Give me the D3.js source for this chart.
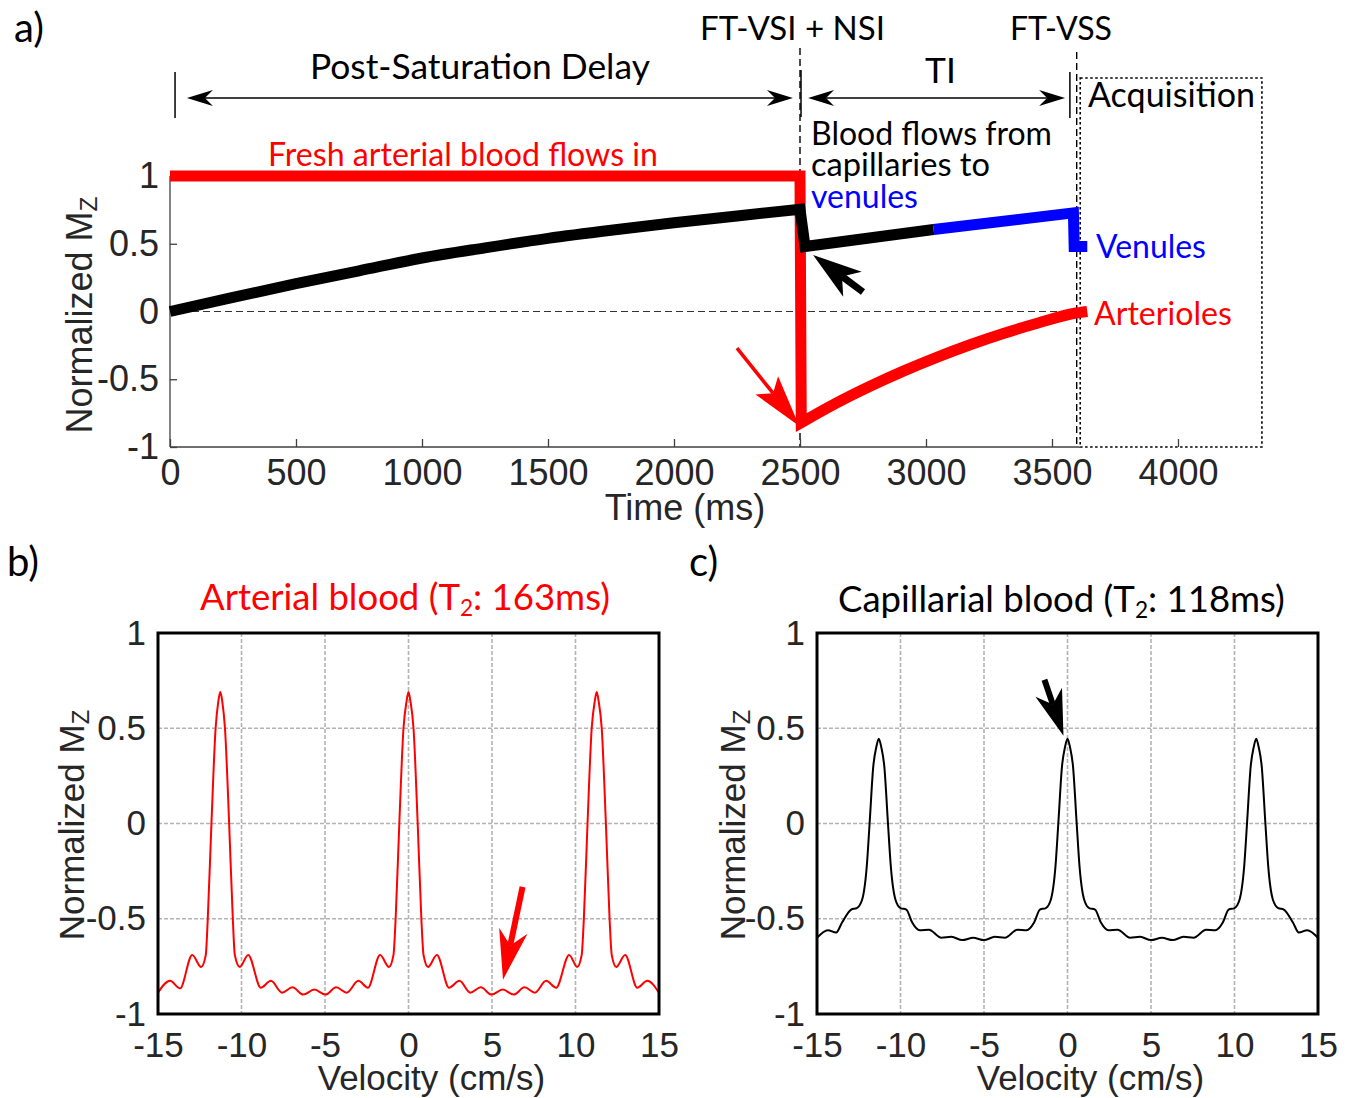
<!DOCTYPE html>
<html>
<head>
<meta charset="utf-8">
<script src="https://cdn.jsdelivr.net/npm/d3@7"></script>
<style>
  body { margin: 0; background: #fff; }
  svg { display: block; }
</style>
</head>
<body>
<svg id="fig" width="1361" height="1098"></svg>
<script>
// ---------------- data ----------------
// axis ticks
const timeTicks = [0, 500, 1000, 1500, 2000, 2500, 3000, 3500, 4000];
const mzTicks = [-1, -0.5, 0, 0.5, 1];
const velTicks = [-15, -10, -5, 0, 5, 10, 15];
const velGrid = [-10, -5, 0, 5, 10];
const mzGrid = [-0.5, 0, 0.5];

// (a) arterial blood: inflow at Mz = 1, inverted at 2500 ms, then T1 recovery
const arterialT = [0, 2500, 2505, 2640, 2780, 2910, 3040, 3175, 3310, 3445, 3585, 3640];
const arterialM = [1, 1, -0.82, -0.68, -0.55, -0.44, -0.34, -0.245, -0.16, -0.085, -0.015, 0.0];

// (a) capillary blood: recovery after saturation, drop at 2500 ms
const capillaryT = [0, 250, 500, 750, 1000, 1250, 1500, 1750, 2000, 2250, 2500, 2520, 3030];
const capillaryM = [0, 0.105, 0.205, 0.30, 0.395, 0.47, 0.54, 0.60, 0.655, 0.705, 0.755, 0.48, 0.605];

// (a) venous part of the same blood, crushed at FT-VSS
const venousT = [3030, 3585, 3588, 3640];
const venousM = [0.605, 0.728, 0.48, 0.48];

// (b) velocity profile, arterial blood (T2 163 ms)
const arterialVel = [-15, -14.28, -13.68, -12.95, -12.42, -12.14, -12.02, -11.8, -11.55, -11.39, -11.27, -11.15, -10.99, -10.74, -10.52, -10.4, -10.1, -9.6, -8.84, -8.24, -7.57, -6.95, -6.3, -5.64, -4.97, -4.33, -3.7, -3.0, -2.43, -1.7, -1.17, -0.9, -0.77, -0.55, -0.3, -0.12, 0, 0.12, 0.3, 0.55, 0.77, 0.9, 1.17, 1.7, 2.43, 3.05, 3.7, 4.33, 4.97, 5.64, 6.3, 6.95, 7.57, 8.24, 8.84, 9.62, 10.1, 10.37, 10.5, 10.72, 10.97, 11.15, 11.27, 11.39, 11.57, 11.82, 12.04, 12.17, 12.44, 12.97, 13.7, 14.3, 15];
const arterialProfile = [-0.888, -0.826, -0.865, -0.69, -0.753, -0.69, -0.5, 0, 0.5, 0.64, 0.69, 0.64, 0.5, 0, -0.5, -0.69, -0.753, -0.69, -0.862, -0.826, -0.888, -0.86, -0.898, -0.872, -0.898, -0.86, -0.888, -0.826, -0.862, -0.69, -0.753, -0.69, -0.5, 0, 0.5, 0.64, 0.69, 0.64, 0.5, 0, -0.5, -0.69, -0.753, -0.69, -0.862, -0.826, -0.888, -0.86, -0.898, -0.872, -0.898, -0.86, -0.888, -0.826, -0.862, -0.69, -0.753, -0.69, -0.5, 0, 0.5, 0.64, 0.69, 0.64, 0.5, 0, -0.5, -0.69, -0.753, -0.69, -0.862, -0.826, -0.888];

// (c) velocity profile, capillary blood (T2 118 ms)
const capillaryVel = [-15, -14.35, -13.85, -13.5, -12.95, -12.62, -12.3, -12.02, -11.85, -11.63, -11.45, -11.3, -11.15, -10.97, -10.75, -10.58, -10.3, -10.0, -9.65, -9.3, -8.85, -8.3, -7.55, -6.95, -6.3, -5.65, -5.0, -4.35, -3.75, -3.0, -2.45, -2.0, -1.65, -1.3, -1.0, -0.72, -0.55, -0.33, -0.15, 0, 0.15, 0.33, 0.55, 0.72, 1.0, 1.3, 1.65, 2.0, 2.45, 3.0, 3.75, 4.35, 5.0, 5.65, 6.3, 6.95, 7.55, 8.3, 8.85, 9.3, 9.65, 10.0, 10.3, 10.58, 10.75, 10.97, 11.15, 11.3, 11.45, 11.63, 11.85, 12.02, 12.3, 12.62, 12.95, 13.5, 13.85, 14.35, 15];
const capillaryProfile = [-0.60, -0.56, -0.572, -0.52, -0.452, -0.444, -0.40, -0.225, 0, 0.30, 0.40, 0.445, 0.40, 0.30, 0, -0.225, -0.40, -0.444, -0.452, -0.52, -0.561, -0.558, -0.60, -0.595, -0.612, -0.60, -0.612, -0.595, -0.60, -0.558, -0.561, -0.52, -0.452, -0.444, -0.40, -0.225, 0, 0.30, 0.40, 0.445, 0.40, 0.30, 0, -0.225, -0.40, -0.444, -0.452, -0.52, -0.561, -0.558, -0.60, -0.595, -0.612, -0.60, -0.612, -0.595, -0.60, -0.558, -0.561, -0.52, -0.452, -0.444, -0.40, -0.225, 0, 0.30, 0.40, 0.445, 0.40, 0.30, 0, -0.225, -0.40, -0.444, -0.452, -0.52, -0.572, -0.56, -0.60];

// ---------------- setup ----------------
const RED = '#ff0000', BLUE = '#0000ff', INK = '#262626';
const ANN_FONT = "Lato, 'Open Sans', 'DejaVu Sans', sans-serif";
const AX_FONT = "'Liberation Sans', Arial, Helvetica, sans-serif";
const svg = d3.select('#fig');

const zip = (xs, ys) => xs.map((x, i) => [x, ys[i]]);

function fit(sel, target) {
  const w = sel.node().getComputedTextLength();
  sel.attr('font-size', (+sel.attr('font-size')) * target / w);
  return sel;
}

function annot(x, y, str, width, color = '#000', size = 34) {
  const t = svg.append('text')
    .attr('x', x).attr('y', y)
    .attr('font-family', ANN_FONT)
    .attr('font-size', size)
    .attr('fill', color)
    .text(str);
  if (width) fit(t, width);
  return t;
}

// filled, notched arrowhead with a straight shaft (tail -> tip)
function arrow(g, tail, tip, o) {
  const dx = tip[0] - tail[0], dy = tip[1] - tail[1];
  const L = Math.hypot(dx, dy), ux = dx / L, uy = dy / L, px = -uy, py = ux;
  const bx = tip[0] - ux * o.head, by = tip[1] - uy * o.head;
  const nx = tip[0] - ux * (o.head - o.notch), ny = tip[1] - uy * (o.head - o.notch);
  if (o.shaft) {
    g.append('line')
      .attr('x1', tail[0]).attr('y1', tail[1]).attr('x2', nx).attr('y2', ny)
      .attr('stroke', o.color).attr('stroke-width', o.shaft);
  }
  g.append('path')
    .attr('d', `M${tip[0]},${tip[1]}L${bx + px * o.half},${by + py * o.half}L${nx},${ny}L${bx - px * o.half},${by - py * o.half}Z`)
    .attr('fill', o.color);
}

function doubleArrow(g, a, b, o) {
  const dx = b[0] - a[0], dy = b[1] - a[1];
  const L = Math.hypot(dx, dy), ux = dx / L, uy = dy / L;
  const back = o.head - o.notch;
  g.append('line')
    .attr('x1', a[0] + ux * back).attr('y1', a[1] + uy * back)
    .attr('x2', b[0] - ux * back).attr('y2', b[1] - uy * back)
    .attr('stroke', o.color).attr('stroke-width', o.shaft);
  arrow(g, b, a, Object.assign({}, o, { shaft: 0 }));
  arrow(g, a, b, Object.assign({}, o, { shaft: 0 }));
}

// join several d3.line outputs into one continuous path
function joinPaths(parts) {
  return parts.map((d, i) => (i ? d.replace(/^M/, 'L') : d)).join('');
}

function styleTicks(g, size) {
  g.attr('font-family', AX_FONT).attr('font-size', size);
  g.selectAll('.tick text').attr('font-family', AX_FONT).attr('font-size', size).attr('fill', INK);
}

// ================= panel a =================
const xA = d3.scaleLinear().domain([0, 4000]).range([170, 1178]);
const yA = d3.scaleLinear().domain([-1, 1]).range([447, 176]);
const gA = svg.append('g');

// zero reference line
gA.append('line')
  .attr('x1', xA(0)).attr('x2', xA(3585))
  .attr('y1', yA(0)).attr('y2', yA(0))
  .attr('stroke', '#333').attr('stroke-width', 1).attr('stroke-dasharray', '7,4');

// event markers (dashed verticals)
[[2500, 48], [3598, 52]].forEach(([t, top]) => {
  gA.append('line')
    .attr('x1', xA(t)).attr('x2', xA(t))
    .attr('y1', top).attr('y2', yA(-1))
    .attr('stroke', '#000').attr('stroke-width', 1.4).attr('stroke-dasharray', '7,4');
});

// axes
const axXa = gA.append('g')
  .attr('transform', `translate(0,${yA(-1)})`)
  .call(d3.axisBottom(xA).tickValues(timeTicks).tickSizeInner(-8).tickSizeOuter(0)
    .tickPadding(12).tickFormat(d => String(d)))
  .call(g => g.select('.domain').remove());
const axYa = gA.append('g')
  .attr('transform', `translate(${xA(0)},0)`)
  .call(d3.axisLeft(yA).tickValues(mzTicks).tickSizeInner(-7).tickSizeOuter(0)
    .tickPadding(11).tickFormat(d => String(d)))
  .call(g => g.select('.domain').remove());
[axXa, axYa].forEach(g => {
  styleTicks(g, 36);
  g.selectAll('.tick line').attr('stroke', '#404040').attr('stroke-width', 1.3);
});
gA.append('line').attr('x1', xA(0)).attr('x2', xA(0)).attr('y1', yA(1)).attr('y2', yA(-1))
  .attr('stroke', '#404040').attr('stroke-width', 1.3);
gA.append('line').attr('x1', xA(0)).attr('x2', xA(3610)).attr('y1', yA(-1)).attr('y2', yA(-1))
  .attr('stroke', '#404040').attr('stroke-width', 1.3);

// acquisition window
gA.append('rect')
  .attr('x', xA(3612)).attr('y', 78)
  .attr('width', xA(4333) - xA(3612)).attr('height', yA(-1) - 78)
  .attr('fill', 'none').attr('stroke', '#000').attr('stroke-width', 1.6)
  .attr('stroke-dasharray', '2.5,2.5');

// curves
const lineLin = d3.line().x(d => xA(d[0])).y(d => yA(d[1]));
const lineSmooth = d3.line().x(d => xA(d[0])).y(d => yA(d[1])).curve(d3.curveMonotoneX);

const art = zip(arterialT, arterialM);
gA.append('path')
  .attr('d', joinPaths([lineLin(art.slice(0, 3)), lineSmooth(art.slice(2))]))
  .attr('fill', 'none').attr('stroke', RED).attr('stroke-width', 11)
  .attr('stroke-linejoin', 'miter').attr('stroke-miterlimit', 6);

const cap = zip(capillaryT, capillaryM);
gA.append('path')
  .attr('d', joinPaths([lineSmooth(cap.slice(0, 11)), lineLin(cap.slice(10))]))
  .attr('fill', 'none').attr('stroke', '#000').attr('stroke-width', 11)
  .attr('stroke-linejoin', 'miter').attr('stroke-miterlimit', 6);

const ven = zip(venousT, venousM);
gA.append('path')
  .attr('d', lineLin(ven))
  .attr('fill', 'none').attr('stroke', BLUE).attr('stroke-width', 11)
  .attr('stroke-linejoin', 'miter').attr('stroke-miterlimit', 6);

// timing arrows above the plot
const armY = 98;
doubleArrow(gA, [xA(67), armY], [xA(2472), armY], { head: 26, half: 8, notch: 8, shaft: 1.5, color: '#000' });
doubleArrow(gA, [xA(2532), armY], [xA(3552), armY], { head: 26, half: 8, notch: 8, shaft: 1.5, color: '#000' });
[[20, 72, 118], [2504, 70, 117], [3571, 72, 118]].forEach(([t, y1, y2]) => {
  gA.append('line').attr('x1', xA(t)).attr('x2', xA(t)).attr('y1', y1).attr('y2', y2)
    .attr('stroke', '#000').attr('stroke-width', 1.5);
});

// pointer arrows
arrow(gA, [xA(2250), yA(-0.27)], [xA(2497), yA(-0.845)], { head: 52, half: 14.5, notch: 10, shaft: 3.5, color: RED });
arrow(gA, [xA(2750), yA(0.144)], [xA(2552), yA(0.417)], { head: 49, half: 15.5, notch: 13, shaft: 7, color: '#000' });

// axis titles
svg.append('text')
  .attr('x', 685).attr('y', 520).attr('text-anchor', 'middle')
  .attr('font-family', AX_FONT).attr('font-size', 36).attr('fill', INK)
  .text('Time (ms)');

function mzLabel(cx, cy, size) {
  const t = svg.append('text')
    .attr('transform', `translate(${cx},${cy}) rotate(-90)`)
    .attr('text-anchor', 'middle')
    .attr('font-family', AX_FONT).attr('font-size', size).attr('fill', INK);
  t.append('tspan').text('Normalized M');
  t.append('tspan').attr('font-size', '0.68em').attr('dy', '0.22em').text('Z');
  return t;
}
mzLabel(92, 315, 36);

// annotations (Calibri-like sans, sized to the common annotation size)
const ps = annot(310, 79, 'Post-Saturation Delay', 340);
const annSize = +ps.attr('font-size');
const panelSize = 40;
annot(14, 42, 'a)', null, '#000', panelSize);
annot(700, 40, 'FT-VSI + NSI', 185);
annot(1010, 40, 'FT-VSS', 102);
annot(925, 83, 'TI', null, '#000', annSize);
annot(1088, 107, 'Acquisition', 167);
annot(811, 145, 'Blood flows from', 241);
annot(811, 176, 'capillaries to', 179);
annot(811, 208, 'venules', 107, BLUE);
annot(268, 166, 'Fresh arterial blood flows in', 390, RED);
annot(1096, 258, 'Venules', 110, BLUE);
annot(1094, 325, 'Arterioles', 138, RED);

// ================= panels b & c =================
const yV = d3.scaleLinear().domain([-1, 1]).range([1014, 633]);

function profilePanel(x0, x1, vel, prof, color, title, titleX, titleY, titleW, labelX) {
  const x = d3.scaleLinear().domain([-15, 15]).range([x0, x1]);
  const g = svg.append('g');

  // grid
  g.selectAll('line.gv').data(velGrid).join('line')
    .attr('x1', d => x(d)).attr('x2', d => x(d)).attr('y1', yV(1)).attr('y2', yV(-1))
    .attr('stroke', '#b3b3b3').attr('stroke-width', 1.6).attr('stroke-dasharray', '4,2');
  g.selectAll('line.gh').data(mzGrid).join('line')
    .attr('x1', x(-15)).attr('x2', x(15)).attr('y1', d => yV(d)).attr('y2', d => yV(d))
    .attr('stroke', '#b3b3b3').attr('stroke-width', 1.6).attr('stroke-dasharray', '4,2');

  // profile
  const line = d3.line().x(d => x(d[0])).y(d => yV(d[1])).curve(d3.curveMonotoneX);
  g.append('path').attr('d', line(zip(vel, prof)))
    .attr('fill', 'none').attr('stroke', color).attr('stroke-width', 2);

  // frame
  g.append('rect').attr('x', x(-15)).attr('y', yV(1))
    .attr('width', x(15) - x(-15)).attr('height', yV(-1) - yV(1))
    .attr('fill', 'none').attr('stroke', '#000').attr('stroke-width', 3);

  // tick labels
  const axX = g.append('g').attr('transform', `translate(0,${yV(-1)})`)
    .call(d3.axisBottom(x).tickValues(velTicks).tickSize(0).tickPadding(18).tickFormat(d => String(d)))
    .call(s => s.select('.domain').remove());
  const axY = g.append('g').attr('transform', `translate(${x(-15)},0)`)
    .call(d3.axisLeft(yV).tickValues(mzTicks).tickSize(0).tickPadding(12).tickFormat(d => String(d)))
    .call(s => s.select('.domain').remove());
  styleTicks(axX, 35);
  styleTicks(axY, 35);

  // axis titles
  svg.append('text')
    .attr('x', (x0 + x1) / 2 + 23).attr('y', 1090).attr('text-anchor', 'middle')
    .attr('font-family', AX_FONT).attr('font-size', 35).attr('fill', INK)
    .text('Velocity (cm/s)');
  mzLabel(labelX, 825, 35);

  // panel title with T2 subscript
  const t = svg.append('text').attr('x', titleX).attr('y', titleY)
    .attr('font-family', ANN_FONT).attr('font-size', 34).attr('fill', color);
  t.append('tspan').text(title[0]);
  t.append('tspan').attr('font-size', '0.62em').attr('dy', '0.25em').text('2');
  t.append('tspan').attr('dy', '-0.155em').text(title[1]);
  fit(t, titleW);
  return x;
}

const xB = profilePanel(158, 659, arterialVel, arterialProfile, RED,
  ['Arterial blood (T', ': 163ms)'], 200, 610, 410, 84);
const xC = profilePanel(817, 1318, capillaryVel, capillaryProfile, '#000',
  ['Capillarial blood (T', ': 118ms)'], 838, 612, 447, 745);

arrow(svg, [xB(6.83), yV(-0.333)], [xB(5.66), yV(-0.82)], { head: 50, half: 14.5, notch: 15, shaft: 6, color: RED });
arrow(svg, [xC(-1.38), yV(0.755)], [xC(-0.24), yV(0.46)], { head: 46, half: 14, notch: 13, shaft: 6, color: '#000' });

annot(7, 576, 'b)', null, '#000', panelSize);
annot(689, 576, 'c)', null, '#000', panelSize);
</script>
</body>
</html>
